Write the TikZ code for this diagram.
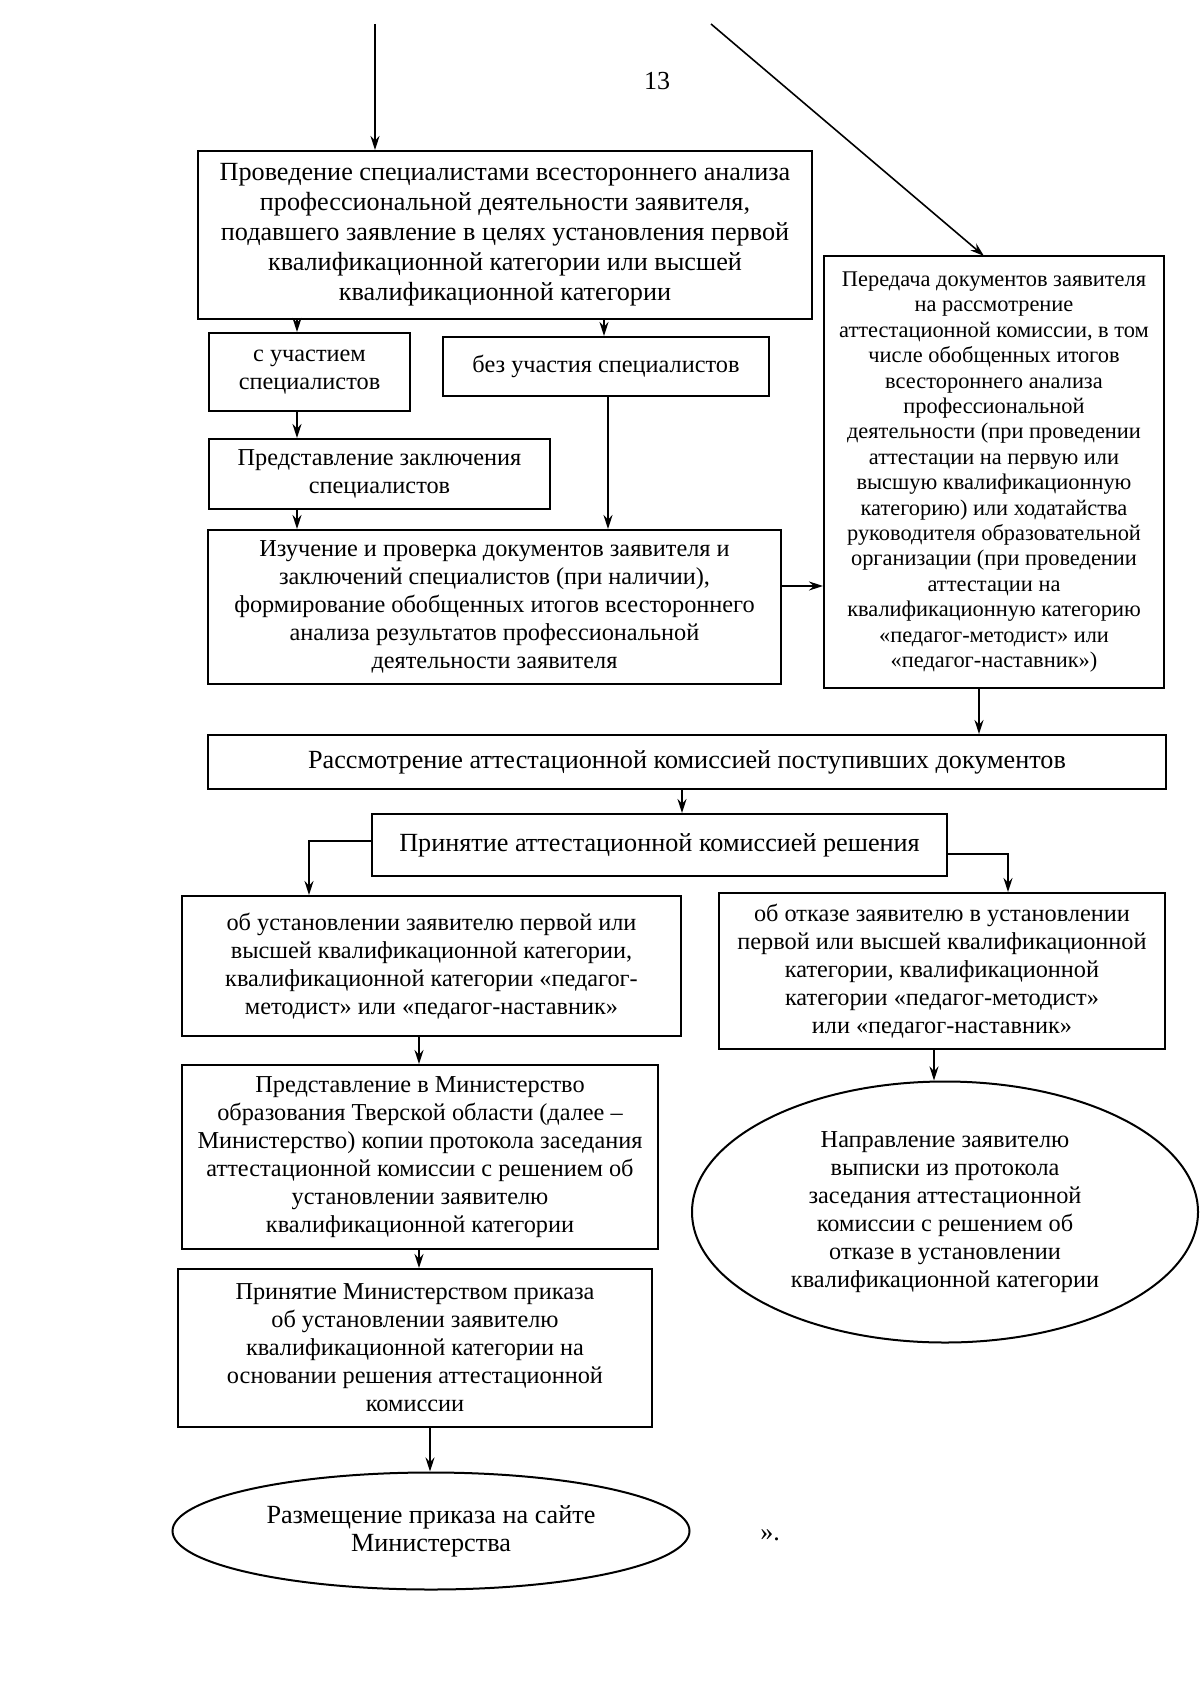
\documentclass[tikz,border=0pt]{standalone}
\usepackage{fontspec}
\setmainfont{Liberation Serif}
\usetikzlibrary{arrows.meta,shapes.geometric}
\tikzset{
  blk/.style={draw, line width=1pt, align=center, inner sep=1pt,
    font=\fontsize{12.15}{14}\selectfont},
  blkbig/.style={blk, font=\fontsize{13.1}{15}\selectfont},
  blkwide/.style={blk, font=\fontsize{13.1}{14}\selectfont},
  blksmall/.style={blk, font=\fontsize{11.2}{12.7}\selectfont},
  oval/.style={blk, ellipse, inner sep=0pt},
  conn/.style={->, line width=0.8pt}
}
\begin{document}
\begin{tikzpicture}[>={Stealth[length=7pt,width=4.5pt]}, x=0.5pt, y=-0.5pt]
\useasboundingbox (0,0) rectangle (1200,1695);

\node[font=\fontsize{13}{14}\selectfont] (pagenum) at (657,81) {13};

\node[blkbig, minimum width=307pt, minimum height=84pt] (proc) at (505,235)
  {Проведение специалистами всестороннего анализа\\
   профессиональной деятельности заявителя,\\
   подавшего заявление в целях установления первой\\
   квалификационной категории или высшей\\
   квалификационной категории};
\node[blksmall, minimum width=170pt, minimum height=216pt] (transfer) at (994,472)
  {Передача документов заявителя\\
   на рассмотрение\\
   аттестационной комиссии, в том\\
   числе обобщенных итогов\\
   всестороннего анализа\\
   профессиональной\\
   деятельности (при проведении\\
   аттестации на первую или\\
   высшую квалификационную\\
   категорию) или ходатайства\\
   руководителя образовательной\\
   организации (при проведении\\
   аттестации на\\
   квалификационную категорию\\
   «педагог-методист» или\\
   «педагог-наставник»)};
\node[blk, minimum width=100.5pt, minimum height=39pt] (withspec) at (309.5,372)
  {с участием\\ специалистов};
\node[blk, minimum width=163pt, minimum height=29.5pt] (nospec) at (606,366.5)
  {без участия специалистов};
\node[blk, minimum width=170.5pt, minimum height=35pt] (concl) at (379.5,474)
  {Представление заключения\\ специалистов};
\node[blk, minimum width=286.5pt, minimum height=77pt] (study) at (494.5,607)
  {Изучение и проверка документов заявителя и\\
   заключений специалистов (при наличии),\\
   формирование обобщенных итогов всестороннего\\
   анализа результатов профессиональной\\
   деятельности заявителя};
\node[blkwide, minimum width=479pt, minimum height=27pt] (review) at (687,762)
  {Рассмотрение аттестационной комиссией поступивших документов};
\node[blkwide, minimum width=287.5pt, minimum height=31pt] (decision) at (659.5,845)
  {Принятие аттестационной комиссией решения};
\node[blk, minimum width=249.5pt, minimum height=70pt] (grant) at (431.5,966)
  {об установлении заявителю первой или\\
   высшей квалификационной категории,\\
   квалификационной категории «педагог-\\
   методист» или «педагог-наставник»};
\node[blk, minimum width=223pt, minimum height=78pt] (refuse) at (942,971)
  {об отказе заявителю в установлении\\
   первой или высшей квалификационной\\
   категории, квалификационной\\
   категории «педагог-методист»\\
   или «педагог-наставник»};
\node[blk, minimum width=238pt, minimum height=92pt] (submit) at (420,1157)
  {Представление в Министерство\\
   образования Тверской области (далее –\\
   Министерство) копии протокола заседания\\
   аттестационной комиссии с решением об\\
   установлении заявителю\\
   квалификационной категории};
\node[blk, minimum width=237pt, minimum height=79pt] (order) at (415,1348)
  {Принятие Министерством приказа\\
   об установлении заявителю\\
   квалификационной категории на\\
   основании решения аттестационной\\
   комиссии};
\node[oval, blkwide, inner sep=0pt, minimum width=258.5pt, minimum height=58.5pt] (publish) at (431,1531)
  {Размещение приказа на сайте\\ Министерства};
\node[oval, minimum width=253pt, minimum height=130.5pt] (notify) at (945,1212)
  {Направление заявителю\\
   выписки из протокола\\
   заседания аттестационной\\
   комиссии с решением об\\
   отказе в установлении\\
   квалификационной категории};
\node[font=\fontsize{13}{14}\selectfont] (closing) at (770,1535) {».};

% incoming arrows from the previous page
\coordinate (inleft) at (375,24);
\coordinate (inright) at (711,24);
\draw[conn] (inleft) -- (proc.north -| inleft);
\draw[conn] (inright) -- (984,256);

% vertical links
\foreach \a/\b/\x in {proc/withspec/297, withspec/concl/297, concl/study/297,
                      proc/nospec/604, nospec/study/608,
                      transfer/review/979, review/decision/682,
                      grant/submit/419, submit/order/419,
                      order/publish/430, refuse/notify/934}
{
    \draw[conn] (\a.south -| \x,0) -- (\b.north -| \x,0);
}
\draw[conn] (study.east |- 0,586) -- (transfer.west |- 0,586);

% decision branches
\draw[conn] (decision.west |- 0,841) -| (grant.north -| 309,0);
\draw[conn] (decision.east |- 0,854) -| (refuse.north -| 1008,0);

\end{tikzpicture}
\end{document}
